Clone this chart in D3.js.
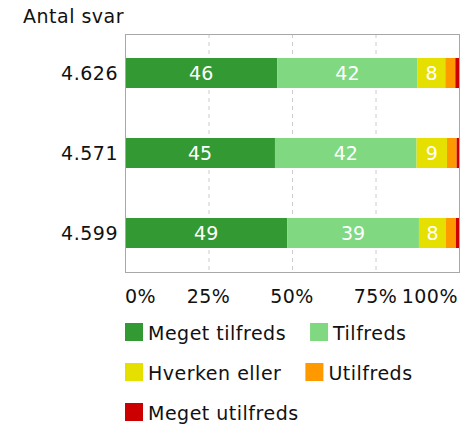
<!DOCTYPE html>
<html>
<head>
<meta charset="utf-8">
<script src="https://cdn.jsdelivr.net/npm/d3@7"></script>
<style>
  body { margin: 0; background: #fff; }
  svg { display: block; font-family: "DejaVu Sans", Verdana, sans-serif; }
  .txt { letter-spacing: 0.5px; }
</style>
</head>
<body>
<svg id="chart" width="461" height="425"></svg>
<script>
(function() {
  'use strict';

  var rows = ['4.626', '4.571', '4.599'];
  var categories = ['Meget tilfreds', 'Tilfreds', 'Hverken eller', 'Utilfreds', 'Meget utilfreds'];
  var colors = ['#339933', '#80d880', '#e6e000', '#ff9900', '#cc0000'];
  var values = [
    [45.6, 42.0, 8.3, 3.0, 1.1],
    [44.9, 42.4, 9.1, 2.9, 0.7],
    [48.6, 39.4, 8.1, 3.0, 0.9]
  ];
  var ticks = [0, 25, 50, 75, 100];

  var svg = d3.select('#chart'),
    margin = {top: 34, left: 125},
    width = 334, height = 238, fontSize = 19,
    g, x, y, stacks, legend, lx, ly;

  svg.append('text')
    .attr('class', 'txt')
    .attr('x', 23).attr('y', 23)
    .attr('font-size', fontSize)
    .attr('fill', '#111')
    .text('Antal svar');

  g = svg.append('g').attr('transform', 'translate(' + margin.left + ',' + margin.top + ')');

  x = d3.scaleLinear().domain([0, 100]).range([0, width]);
  y = d3.scaleBand().domain(rows).range([0, height]).paddingInner(0.625).paddingOuter(0.3);

  // dashed grid
  g.selectAll('.grid')
    .data(ticks.slice(1, -1))
    .enter().append('line')
      .attr('x1', function(d) { return x(d) + 0.5; })
      .attr('x2', function(d) { return x(d) + 0.5; })
      .attr('y1', 0).attr('y2', height)
      .attr('stroke', '#cccccc')
      .attr('stroke-dasharray', '4,4');

  // stacked segments per row
  stacks = values.map(function(v, i) {
    var acc = 0;
    return v.map(function(d, j) {
      var s = {row: rows[i], cat: j, x0: acc, x1: acc + d, v: d};
      acc += d;
      return s;
    });
  });

  var rowG = g.selectAll('.row')
    .data(stacks)
    .enter().append('g');

  rowG.selectAll('rect')
    .data(function(d) { return d; })
    .enter().append('rect')
      .attr('x', function(d) { return x(d.x0); })
      .attr('width', function(d) { return x(d.x1) - x(d.x0); })
      .attr('y', function(d) { return y(d.row); })
      .attr('height', y.bandwidth())
      .attr('fill', function(d) { return colors[d.cat]; });

  rowG.selectAll('.lbl')
    .data(function(d) { return d.filter(function(s) { return s.v >= 5; }); })
    .enter().append('text')
      .attr('x', function(d) { return x((d.x0 + d.x1) / 2); })
      .attr('y', function(d) { return y(d.row) + y.bandwidth() / 2; })
      .attr('dy', '0.36em')
      .attr('text-anchor', 'middle')
      .attr('font-size', fontSize)
      .attr('fill', '#fff')
      .text(function(d) { return Math.round(d.v); });

  // frame
  g.append('rect')
    .attr('x', 0.5).attr('y', 0.5)
    .attr('width', width).attr('height', height)
    .attr('fill', 'none')
    .attr('stroke', '#a8a8a8');

  // row labels
  g.selectAll('.ylab')
    .data(rows)
    .enter().append('text')
      .attr('class', 'txt')
      .attr('x', -7)
      .attr('y', function(d) { return y(d) + y.bandwidth() / 2; })
      .attr('dy', '0.36em')
      .attr('text-anchor', 'end')
      .attr('font-size', fontSize)
      .attr('fill', '#111')
      .text(function(d) { return d; });

  // x tick labels, first and last kept inside
  g.selectAll('.xlab')
    .data(ticks)
    .enter().append('text')
      .attr('class', 'txt')
      .attr('x', function(d, i) { return i === ticks.length - 1 ? x(d) - 1 : x(d); })
      .attr('y', height + 31)
      .attr('text-anchor', function(d, i) { return i === 0 ? 'start' : i === ticks.length - 1 ? 'end' : 'middle'; })
      .attr('font-size', fontSize)
      .attr('fill', '#111')
      .text(function(d) { return d + '%'; });

  // legend, flowing left to right
  legend = svg.append('g');
  lx = margin.left;
  ly = 323;
  categories.forEach(function(c, i) {
    var item = legend.append('g'), t, w;
    item.append('rect')
      .attr('width', 18).attr('height', 18)
      .attr('fill', colors[i]);
    t = item.append('text')
      .attr('class', 'txt')
      .attr('x', 23).attr('y', 17)
      .attr('font-size', fontSize)
      .attr('fill', '#111')
      .text(c);
    w = 23 + t.node().getComputedTextLength();
    if (lx > margin.left && lx + w > 461) {
      lx = margin.left;
      ly += 40;
    }
    item.attr('transform', 'translate(' + lx + ',' + ly + ')');
    lx += w + 24;
  });
}());
</script>
</body>
</html>
